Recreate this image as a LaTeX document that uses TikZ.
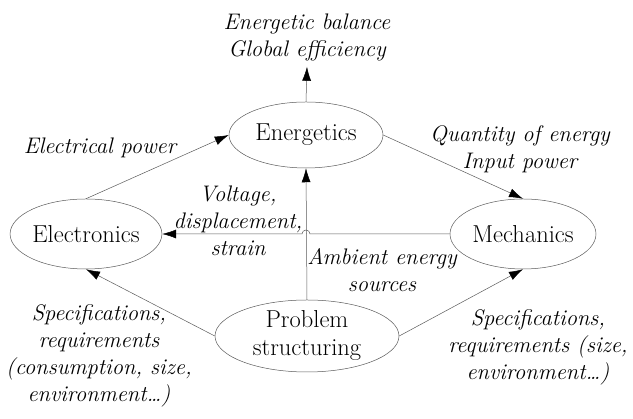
\documentclass[tikz,border=0pt]{standalone}
\usetikzlibrary{shapes.geometric,arrows.meta,positioning,calc}
\definecolor{linecolor}{RGB}{90,90,90}

\begin{document}
\begin{tikzpicture}[x=1pt, y=1pt,
    field/.style={ellipse, draw=linecolor, line width=0.5pt, inner sep=0pt, align=center, font=\fontsize{24.5}{28}\selectfont},
    info/.style={align=center, inner sep=2pt, font=\fontsize{22.5}{27}\selectfont\itshape},
    arrow/.style={-{Latex[length=14pt,width=9pt,color=black]}, line width=0.5pt, linecolor}
]
\useasboundingbox (0,0) rectangle (633,419);

% Fields
\node[field, minimum width=154pt, minimum height=66pt] (energ) at (306,284) {Energetics};
\node[field, minimum width=142pt, minimum height=70pt] (elec) at (86,185) {Electronics};
\node[field, minimum width=146pt, minimum height=70pt] (mech) at (523,185) {Mechanics};
\node[field, minimum width=184pt, minimum height=72pt] (prob) at (307,83) {Problem\\structuring};

% Exchanged quantities
\node[info, inner sep=6pt] (balance) at (307,382) {Energetic balance\\Global efficiency};
\node[info] (elpow) at (100,271) {Electrical power};
\node[info] (quant) at (520,270) {Quantity of energy\\Input power};
\node[info] (volt) at (238,198) {Voltage,\\displacement,\\strain};
\node[info] (amb) at (382,149) {Ambient energy\\sources};
\node[info] (specl) at (99,63) {Specifications,\\requirements\\(consumption, size,\\environment\dots)};
\node[info] (specr) at (538,72) {Specifications,\\requirements (size,\\environment\dots)};

% Crossing point of the two inner links
\coordinate (cross) at (306,185);

% Links
\draw[arrow] (energ.north) -- (balance.south);
\draw[arrow] (elec.north) -- (energ.west);
\draw[arrow] (energ.east) -- (mech.north);
\draw[arrow] (prob.north) -- (energ.south);
\draw[arrow] (mech.west) -- ($(cross)+(4,0)$) arc[start angle=0, end angle=180, radius=4] -- (elec.east);
\draw[arrow] (prob.west) -- (elec.south);
\draw[arrow] (prob.east) -- (mech.south);

\end{tikzpicture}
\end{document}
